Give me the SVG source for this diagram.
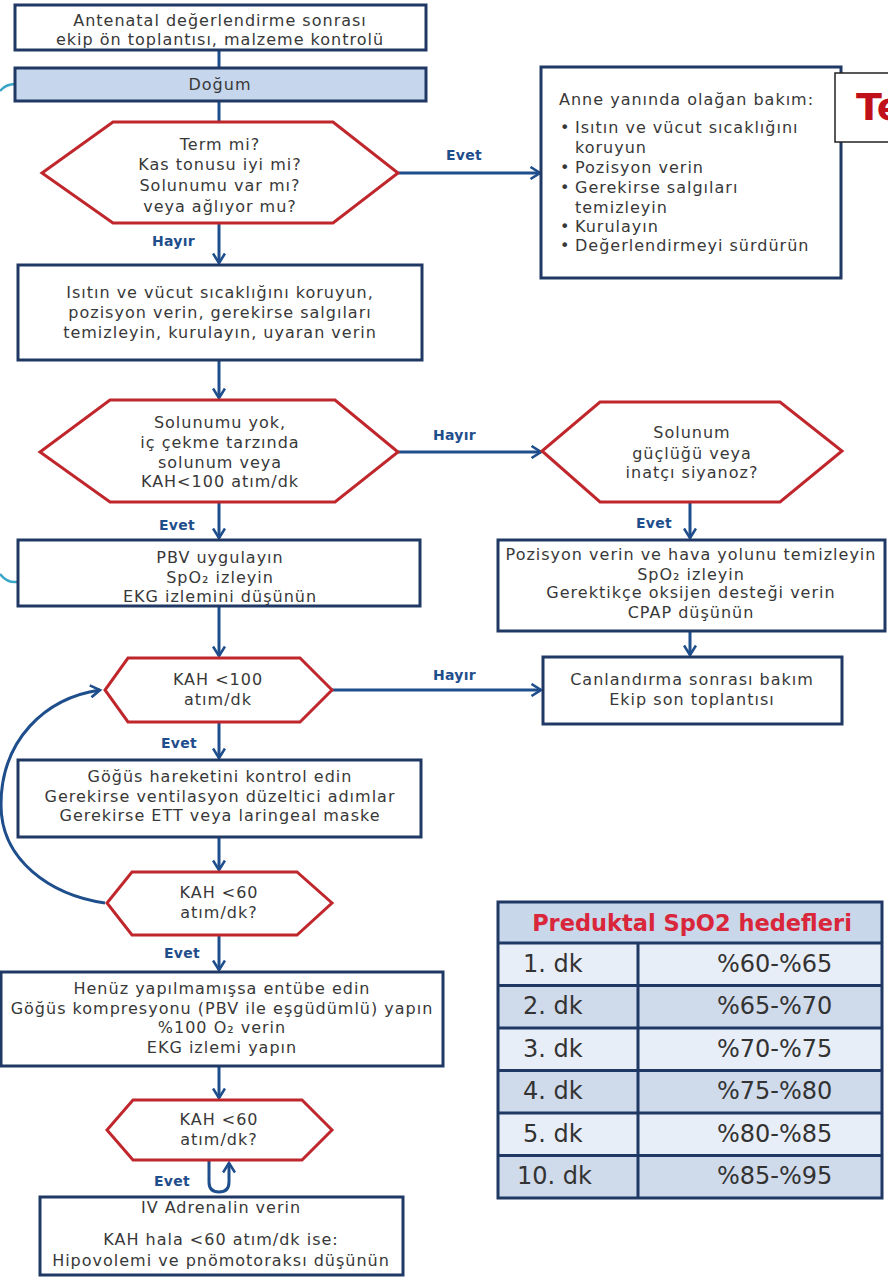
<svg xmlns="http://www.w3.org/2000/svg" width="888" height="1280" viewBox="0 0 888 1280">
<style>
text{font-family:"DejaVu Sans","Liberation Sans",sans-serif;fill:#383838;font-size:16px;letter-spacing:1px}
.c{text-anchor:middle}
.box{fill:#fff;stroke:#1f3864;stroke-width:3}
.hex{fill:#fff;stroke:#c0272d;stroke-width:3;stroke-linejoin:miter}
.con{fill:none;stroke:#1f4e8c;stroke-width:3}
.lbl{font-weight:bold;fill:#1f4e8c;font-size:14px;letter-spacing:0.3px}
.cy{fill:none;stroke:#3aa6c8;stroke-width:2.5}
.tb{font-size:24px;fill:#333;letter-spacing:0}
</style>
<defs>
<marker id="arr" viewBox="0 0 14 14" refX="11" refY="7" markerWidth="14" markerHeight="14" markerUnits="userSpaceOnUse" orient="auto">
<path d="M1.5,1 L11,7 L1.5,13" fill="none" stroke="#1f4e8c" stroke-width="2.6"/>
</marker>
</defs>

<g id="connectors">
<line class="con" x1="219" y1="50" x2="219" y2="68"/>
<line class="con" x1="219" y1="101" x2="219" y2="122"/>
<line class="con" x1="398" y1="173" x2="540" y2="173" marker-end="url(#arr)"/>
<line class="con" x1="219" y1="223" x2="219" y2="263" marker-end="url(#arr)"/>
<line class="con" x1="219" y1="360" x2="219" y2="398" marker-end="url(#arr)"/>
<line class="con" x1="398" y1="452" x2="541" y2="452" marker-end="url(#arr)"/>
<line class="con" x1="219" y1="502" x2="219" y2="538" marker-end="url(#arr)"/>
<line class="con" x1="690" y1="502" x2="690" y2="538" marker-end="url(#arr)"/>
<line class="con" x1="690" y1="631" x2="690" y2="655" marker-end="url(#arr)"/>
<line class="con" x1="219" y1="606" x2="219" y2="656" marker-end="url(#arr)"/>
<line class="con" x1="332" y1="690" x2="541" y2="690" marker-end="url(#arr)"/>
<line class="con" x1="219" y1="722" x2="219" y2="758" marker-end="url(#arr)"/>
<line class="con" x1="219" y1="837" x2="219" y2="870" marker-end="url(#arr)"/>
<path class="con" d="M105,903 C50,895 1,860 1,805 C1,740 45,698 100,690" marker-end="url(#arr)"/>
<line class="con" x1="219" y1="935" x2="219" y2="970" marker-end="url(#arr)"/>
<line class="con" x1="219" y1="1066" x2="219" y2="1098" marker-end="url(#arr)"/>
<path class="con" d="M209,1160 L209,1182 Q209,1192 219,1192 Q229,1192 229,1182 L229,1163" marker-end="url(#arr)"/>
<path class="cy" d="M0,91 Q6,84 15,84"/>
<path class="cy" d="M0,574 Q7,583 17,582"/>
<text class="lbl" x="446" y="160">Evet</text>
<text class="lbl" x="152" y="246">Hayır</text>
<text class="lbl" x="433" y="440">Hayır</text>
<text class="lbl" x="159" y="530">Evet</text>
<text class="lbl" x="636" y="528">Evet</text>
<text class="lbl" x="433" y="680">Hayır</text>
<text class="lbl" x="161" y="748">Evet</text>
<text class="lbl" x="164" y="958">Evet</text>
<text class="lbl" x="154" y="1186">Evet</text>
</g>

<g id="n-antenatal">
<rect class="box" x="15" y="5" width="411" height="45"/>
<text class="c" x="220" y="25.5">Antenatal değerlendirme sonrası</text>
<text class="c" x="220" y="44.5">ekip ön toplantısı, malzeme kontrolü</text>
</g>

<g id="n-dogum">
<rect x="15" y="68" width="411" height="33" fill="#c6d6ec" stroke="#1f3864" stroke-width="3"/>
<text class="c" x="220" y="89.5">Doğum</text>
</g>

<g id="n-term">
<polygon class="hex" points="113,122 333,122 398,173 333,223 113,223 42,173"/>
<text class="c" x="220" y="150">Term mi?</text>
<text class="c" x="220" y="170">Kas tonusu iyi mi?</text>
<text class="c" x="220" y="191">Solunumu var mı?</text>
<text class="c" x="220" y="212">veya ağlıyor mu?</text>
</g>

<g id="n-anne">
<rect class="box" x="541" y="67" width="300" height="211"/>
<text x="559" y="105">Anne yanında olağan  bakım:</text>
<text x="560" y="133">•</text><text x="575" y="133">Isıtın ve vücut sıcaklığını</text>
<text x="575" y="153">koruyun</text>
<text x="560" y="173">•</text><text x="575" y="173">Pozisyon verin</text>
<text x="560" y="193">•</text><text x="575" y="193">Gerekirse salgıları</text>
<text x="575" y="213">temizleyin</text>
<text x="560" y="232">•</text><text x="575" y="232">Kurulayın</text>
<text x="560" y="251">•</text><text x="575" y="251">Değerlendirmeyi sürdürün</text>
</g>

<g id="n-te">
<rect x="835" y="73" width="60" height="69" fill="#fff" stroke="#222" stroke-width="1.5"/>
<text x="856" y="120" style="font-size:38px;font-weight:bold;fill:#c0101a;letter-spacing:0">Te</text>
</g>

<g id="n-isitin">
<rect class="box" x="18" y="265" width="404" height="95"/>
<text class="c" x="220" y="298">Isıtın ve vücut sıcaklığını koruyun,</text>
<text class="c" x="220" y="318">pozisyon verin, gerekirse salgıları</text>
<text class="c" x="220" y="338">temizleyin, kurulayın, uyaran verin</text>
</g>

<g id="n-solunumyok">
<polygon class="hex" points="110,400 335,400 398,452 335,502 110,502 40,452"/>
<text class="c" x="220" y="428">Solunumu yok,</text>
<text class="c" x="220" y="448">iç çekme tarzında</text>
<text class="c" x="220" y="468">solunum veya</text>
<text class="c" x="220" y="487">KAH&lt;100 atım/dk</text>
</g>

<g id="n-guclugu">
<polygon class="hex" points="600,402 780,402 842,451 780,502 600,502 542,451"/>
<text class="c" x="692" y="438">Solunum</text>
<text class="c" x="692" y="459">güçlüğü  veya</text>
<text class="c" x="692" y="478">inatçı siyanoz?</text>
</g>

<g id="n-pbv">
<rect class="box" x="18" y="540" width="402" height="66"/>
<text class="c" x="220" y="563">PBV uygulayın</text>
<text class="c" x="220" y="583">SpO₂ izleyin</text>
<text class="c" x="220" y="602">EKG izlemini düşünün</text>
</g>

<g id="n-pozisyon">
<rect class="box" x="498" y="540" width="387" height="91"/>
<text class="c" x="691" y="560">Pozisyon verin ve hava yolunu temizleyin</text>
<text class="c" x="691" y="580">SpO₂ izleyin</text>
<text class="c" x="691" y="598">Gerektikçe oksijen desteği verin</text>
<text class="c" x="691" y="618">CPAP düşünün</text>
</g>

<g id="n-canlandirma">
<rect class="box" x="543" y="657" width="299" height="67"/>
<text class="c" x="692" y="685">Canlandırma sonrası bakım</text>
<text class="c" x="692" y="705">Ekip son toplantısı</text>
</g>

<g id="n-kah100">
<polygon class="hex" points="128,658 300,658 332,690 300,722 128,722 105,690"/>
<text class="c" x="218" y="685">KAH &lt;100</text>
<text class="c" x="218" y="705">atım/dk</text>
</g>

<g id="n-gogus">
<rect class="box" x="18" y="760" width="403" height="77"/>
<text class="c" x="220" y="782">Göğüs hareketini kontrol edin</text>
<text class="c" x="220" y="802">Gerekirse ventilasyon  düzeltici adımlar</text>
<text class="c" x="220" y="821">Gerekirse  ETT veya laringeal  maske</text>
</g>

<g id="n-kah60a">
<polygon class="hex" points="132,872 297,872 332,903 297,935 132,935 107,903"/>
<text class="c" x="219" y="898">KAH &lt;60</text>
<text class="c" x="219" y="918">atım/dk?</text>
</g>

<g id="n-henuz">
<rect class="box" x="1" y="972" width="442" height="94"/>
<text class="c" x="222" y="994">Henüz yapılmamışsa  entübe edin</text>
<text class="c" x="222" y="1014">Göğüs kompresyonu (PBV ile eşgüdümlü) yapın</text>
<text class="c" x="222" y="1033">%100 O₂ verin</text>
<text class="c" x="222" y="1053">EKG izlemi yapın</text>
</g>

<g id="n-kah60b">
<polygon class="hex" points="133,1100 302,1100 332,1130 302,1160 133,1160 107,1130"/>
<text class="c" x="219" y="1125">KAH &lt;60</text>
<text class="c" x="219" y="1145">atım/dk?</text>
</g>

<g id="n-adrenalin">
<rect class="box" x="40" y="1197" width="363" height="78"/>
<text class="c" x="221" y="1213">IV Adrenalin verin</text>
<text class="c" x="221" y="1245">KAH hala &lt;60 atım/dk ise:</text>
<text class="c" x="221" y="1266">Hipovolemi ve pnömotoraksı düşünün</text>
</g>

<g id="n-table">
<rect x="498" y="902" width="384" height="41" fill="#c9d7ea"/>
<rect x="498" y="943" width="384" height="42.5" fill="#e8eef7"/>
<rect x="498" y="985.5" width="384" height="42.5" fill="#cfdaeb"/>
<rect x="498" y="1028" width="384" height="42.5" fill="#e8eef7"/>
<rect x="498" y="1070.5" width="384" height="42.5" fill="#cfdaeb"/>
<rect x="498" y="1113" width="384" height="42.5" fill="#e8eef7"/>
<rect x="498" y="1155.5" width="384" height="42.5" fill="#cfdaeb"/>
<g fill="none" stroke="#1f3864" stroke-width="3">
<rect x="498" y="902" width="384" height="296"/>
<line x1="498" y1="943" x2="882" y2="943"/>
<line x1="498" y1="985.5" x2="882" y2="985.5"/>
<line x1="498" y1="1028" x2="882" y2="1028"/>
<line x1="498" y1="1070.5" x2="882" y2="1070.5"/>
<line x1="498" y1="1113" x2="882" y2="1113"/>
<line x1="498" y1="1155.5" x2="882" y2="1155.5"/>
<line x1="638" y1="943" x2="638" y2="1198"/>
</g>
<text class="c" x="692" y="931" style="font-size:22.5px;font-weight:bold;fill:#d9263b;letter-spacing:0">Preduktal SpO2 hedefleri</text>
<text class="tb" x="523" y="972">1. dk</text>
<text class="tb" x="523" y="1014">2. dk</text>
<text class="tb" x="523" y="1057">3. dk</text>
<text class="tb" x="523" y="1099">4. dk</text>
<text class="tb" x="523" y="1142">5. dk</text>
<text class="tb" x="517" y="1184">10. dk</text>
<text class="tb" x="717" y="972">%60-%65</text>
<text class="tb" x="717" y="1014">%65-%70</text>
<text class="tb" x="717" y="1057">%70-%75</text>
<text class="tb" x="717" y="1099">%75-%80</text>
<text class="tb" x="717" y="1142">%80-%85</text>
<text class="tb" x="717" y="1184">%85-%95</text>
</g>
</svg>
